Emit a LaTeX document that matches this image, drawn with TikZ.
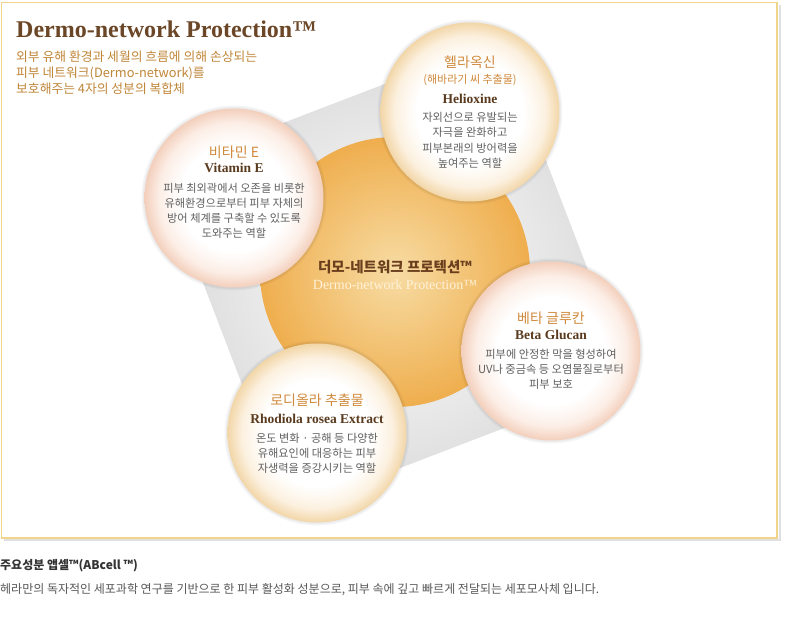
\documentclass[tikz,border=0pt]{standalone}
\usepackage{fontspec}
\setmainfont{Liberation Serif}
\newfontfamily\kr{Noto Sans CJK KR}
\definecolor{framecol}{HTML}{F0D48A}
\definecolor{titlebrown}{HTML}{6B4728}
\definecolor{suborange}{HTML}{C08638}
\definecolor{headorange}{HTML}{D08A3C}
\definecolor{namebrown}{HTML}{5A3A1E}
\definecolor{bodygray}{HTML}{606060}
\definecolor{orinner}{HTML}{F7DCA4}
\definecolor{orouter}{HTML}{EFAE4E}
\definecolor{ctrbrown}{HTML}{6B3F1E}
\definecolor{ctrcream}{HTML}{FFF2D8}
\definecolor{pinkedge}{HTML}{F3CFBC}
\definecolor{pinkmid}{HTML}{FCEEE6}
\definecolor{creamedge}{HTML}{F2D6A8}
\definecolor{creammid}{HTML}{FCF1E0}
\definecolor{bottomdark}{HTML}{333333}
\definecolor{bottomgray}{HTML}{585858}
\pgfdeclareradialshading{bubblepink}{\pgfpoint{0bp}{0bp}}{color(0bp)=(white); color(15bp)=(white); color(21bp)=(pinkmid); color(25bp)=(pinkedge); color(50bp)=(pinkedge)}
\pgfdeclareradialshading{bubblecream}{\pgfpoint{0bp}{0bp}}{color(0bp)=(white); color(15bp)=(white); color(21bp)=(creammid); color(25bp)=(creamedge); color(50bp)=(creamedge)}
\tikzset{
  krhead/.style={font=\kr\fontsize{14}{14}\selectfont, text=headorange, inner sep=0},
  krsmall/.style={font=\kr\fontsize{11}{11}\selectfont, text=headorange, inner sep=0},
  enname/.style={font=\bfseries\fontsize{13.5}{13.5}\selectfont, text=namebrown, inner sep=0},
  bodytxt/.style={font=\kr\fontsize{11.2}{11.2}\selectfont, text=bodygray, inner sep=0},
  subtxt/.style={font=\kr\fontsize{12.8}{12.8}\selectfont, text=suborange, inner sep=0, anchor=west},
  halo/.style={fill=black, opacity=0.04},
}
\begin{document}
\begin{tikzpicture}[x=1pt,y=-1pt]
\useasboundingbox (0,0) rectangle (785,631);
\fill[white] (0,0) rectangle (785,631);
% frame
\draw[black!12, line width=2] (4,540) -- (779.5,540) -- (779.5,5);
\draw[framecol, line width=1.5, fill=white] (1.5,2.5) rectangle (777,538);
% rotated square
\begin{scope}[rotate around={21:(395,275)}]
\shade[inner color=white, outer color=black!15, rounded corners=4] (213,93) rectangle (577,457);
\end{scope}
% orange circle
\shade[inner color=orinner, outer color=orouter] (395,272) circle (135);
% bubbles
\coordinate (cH) at (470,112);
\coordinate (cV) at (234,198);
\coordinate (cB) at (551,351);
\coordinate (cR) at (317,433);
\foreach \c/\s in {cH/bubblecream, cV/bubblepink, cB/bubblepink, cR/bubblecream}{
  \fill[halo] (\c) circle (92.5);
  \fill[halo] (\c) circle (91);
  \shade[shading=\s] (\c) circle (89.5);
}
% title
\node[anchor=base west, inner sep=0, font=\bfseries\fontsize{24}{24}\selectfont, text=titlebrown] (title) at (16,38) {Dermo-network Protection™};
\node[subtxt] (sub1) at (16,57) {외부 유해 환경과 세월의 흐름에 의해 손상되는};
\node[subtxt] (sub2) at (16,73) {피부 네트워크(Dermo-network)를};
\node[subtxt] (sub3) at (16,89) {보호해주는 4자의 성분의 복합체};
% Helioxine
\node[krhead] (h1) at (470,62) {헬라옥신};
\node[krsmall] (h2) at (470,80) {(해바라기 씨 추출물)};
\node[enname] (h3) at (470,99) {Helioxine};
\node[bodytxt] (h4) at (470,117) {자외선으로 유발되는};
\node[bodytxt] (h5) at (470,132) {자극을 완화하고};
\node[bodytxt] (h6) at (470,148) {피부본래의 방어력을};
\node[bodytxt] (h7) at (470,163) {높여주는 역할};
% Vitamin E
\node[krhead] (v1) at (234,152) {비타민 E};
\node[enname] (v2) at (234,168) {Vitamin E};
\node[bodytxt] (v3) at (234,188) {피부 최외곽에서 오존을 비롯한};
\node[bodytxt] (v4) at (234,203) {유해환경으로부터 피부 자체의};
\node[bodytxt] (v5) at (234,218) {방어 체계를 구축할 수 있도록};
\node[bodytxt] (v6) at (234,233) {도와주는 역할};
% center
\node[inner sep=0, font=\kr\bfseries\fontsize{14.5}{14.5}\selectfont, text=ctrbrown] (c1) at (395,267) {더모-네트워크 프로텍션™};
\node[inner sep=0, font=\fontsize{14}{14}\selectfont, text=ctrcream] (c2) at (395,285) {Dermo-network Protection™};
% Beta Glucan
\node[krhead] (b1) at (551,318) {베타 글루칸};
\node[enname] (b2) at (551,335) {Beta Glucan};
\node[bodytxt] (b3) at (551,354) {피부에 안정한 막을 형성하여};
\node[bodytxt] (b4) at (551,369) {UV나 중금속 등 오염물질로부터};
\node[bodytxt] (b5) at (551,384) {피부 보호};
% Rhodiola
\node[krhead] (r1) at (317,400) {로디올라 추출물};
\node[enname] (r2) at (317,419) {Rhodiola rosea Extract};
\node[bodytxt] (r3) at (317,438) {온도 변화 · 공해 등 다양한};
\node[bodytxt] (r4) at (317,453) {유해요인에 대응하는 피부};
\node[bodytxt] (r5) at (317,468) {자생력을 증강시키는 역할};
% bottom
\node[anchor=west, inner sep=0, font=\kr\bfseries\fontsize{12}{12}\selectfont, text=bottomdark] (f1) at (0,566) {주요성분 앱셀™(ABcell ™)};
\node[anchor=west, inner sep=0, font=\kr\fontsize{12}{12}\selectfont, text=bottomgray] (f2) at (0,590) {헤라만의 독자적인 세포과학 연구를 기반으로 한 피부 활성화 성분으로, 피부 속에 깊고 빠르게 전달되는 세포모사체 입니다.};
\end{tikzpicture}
\end{document}
